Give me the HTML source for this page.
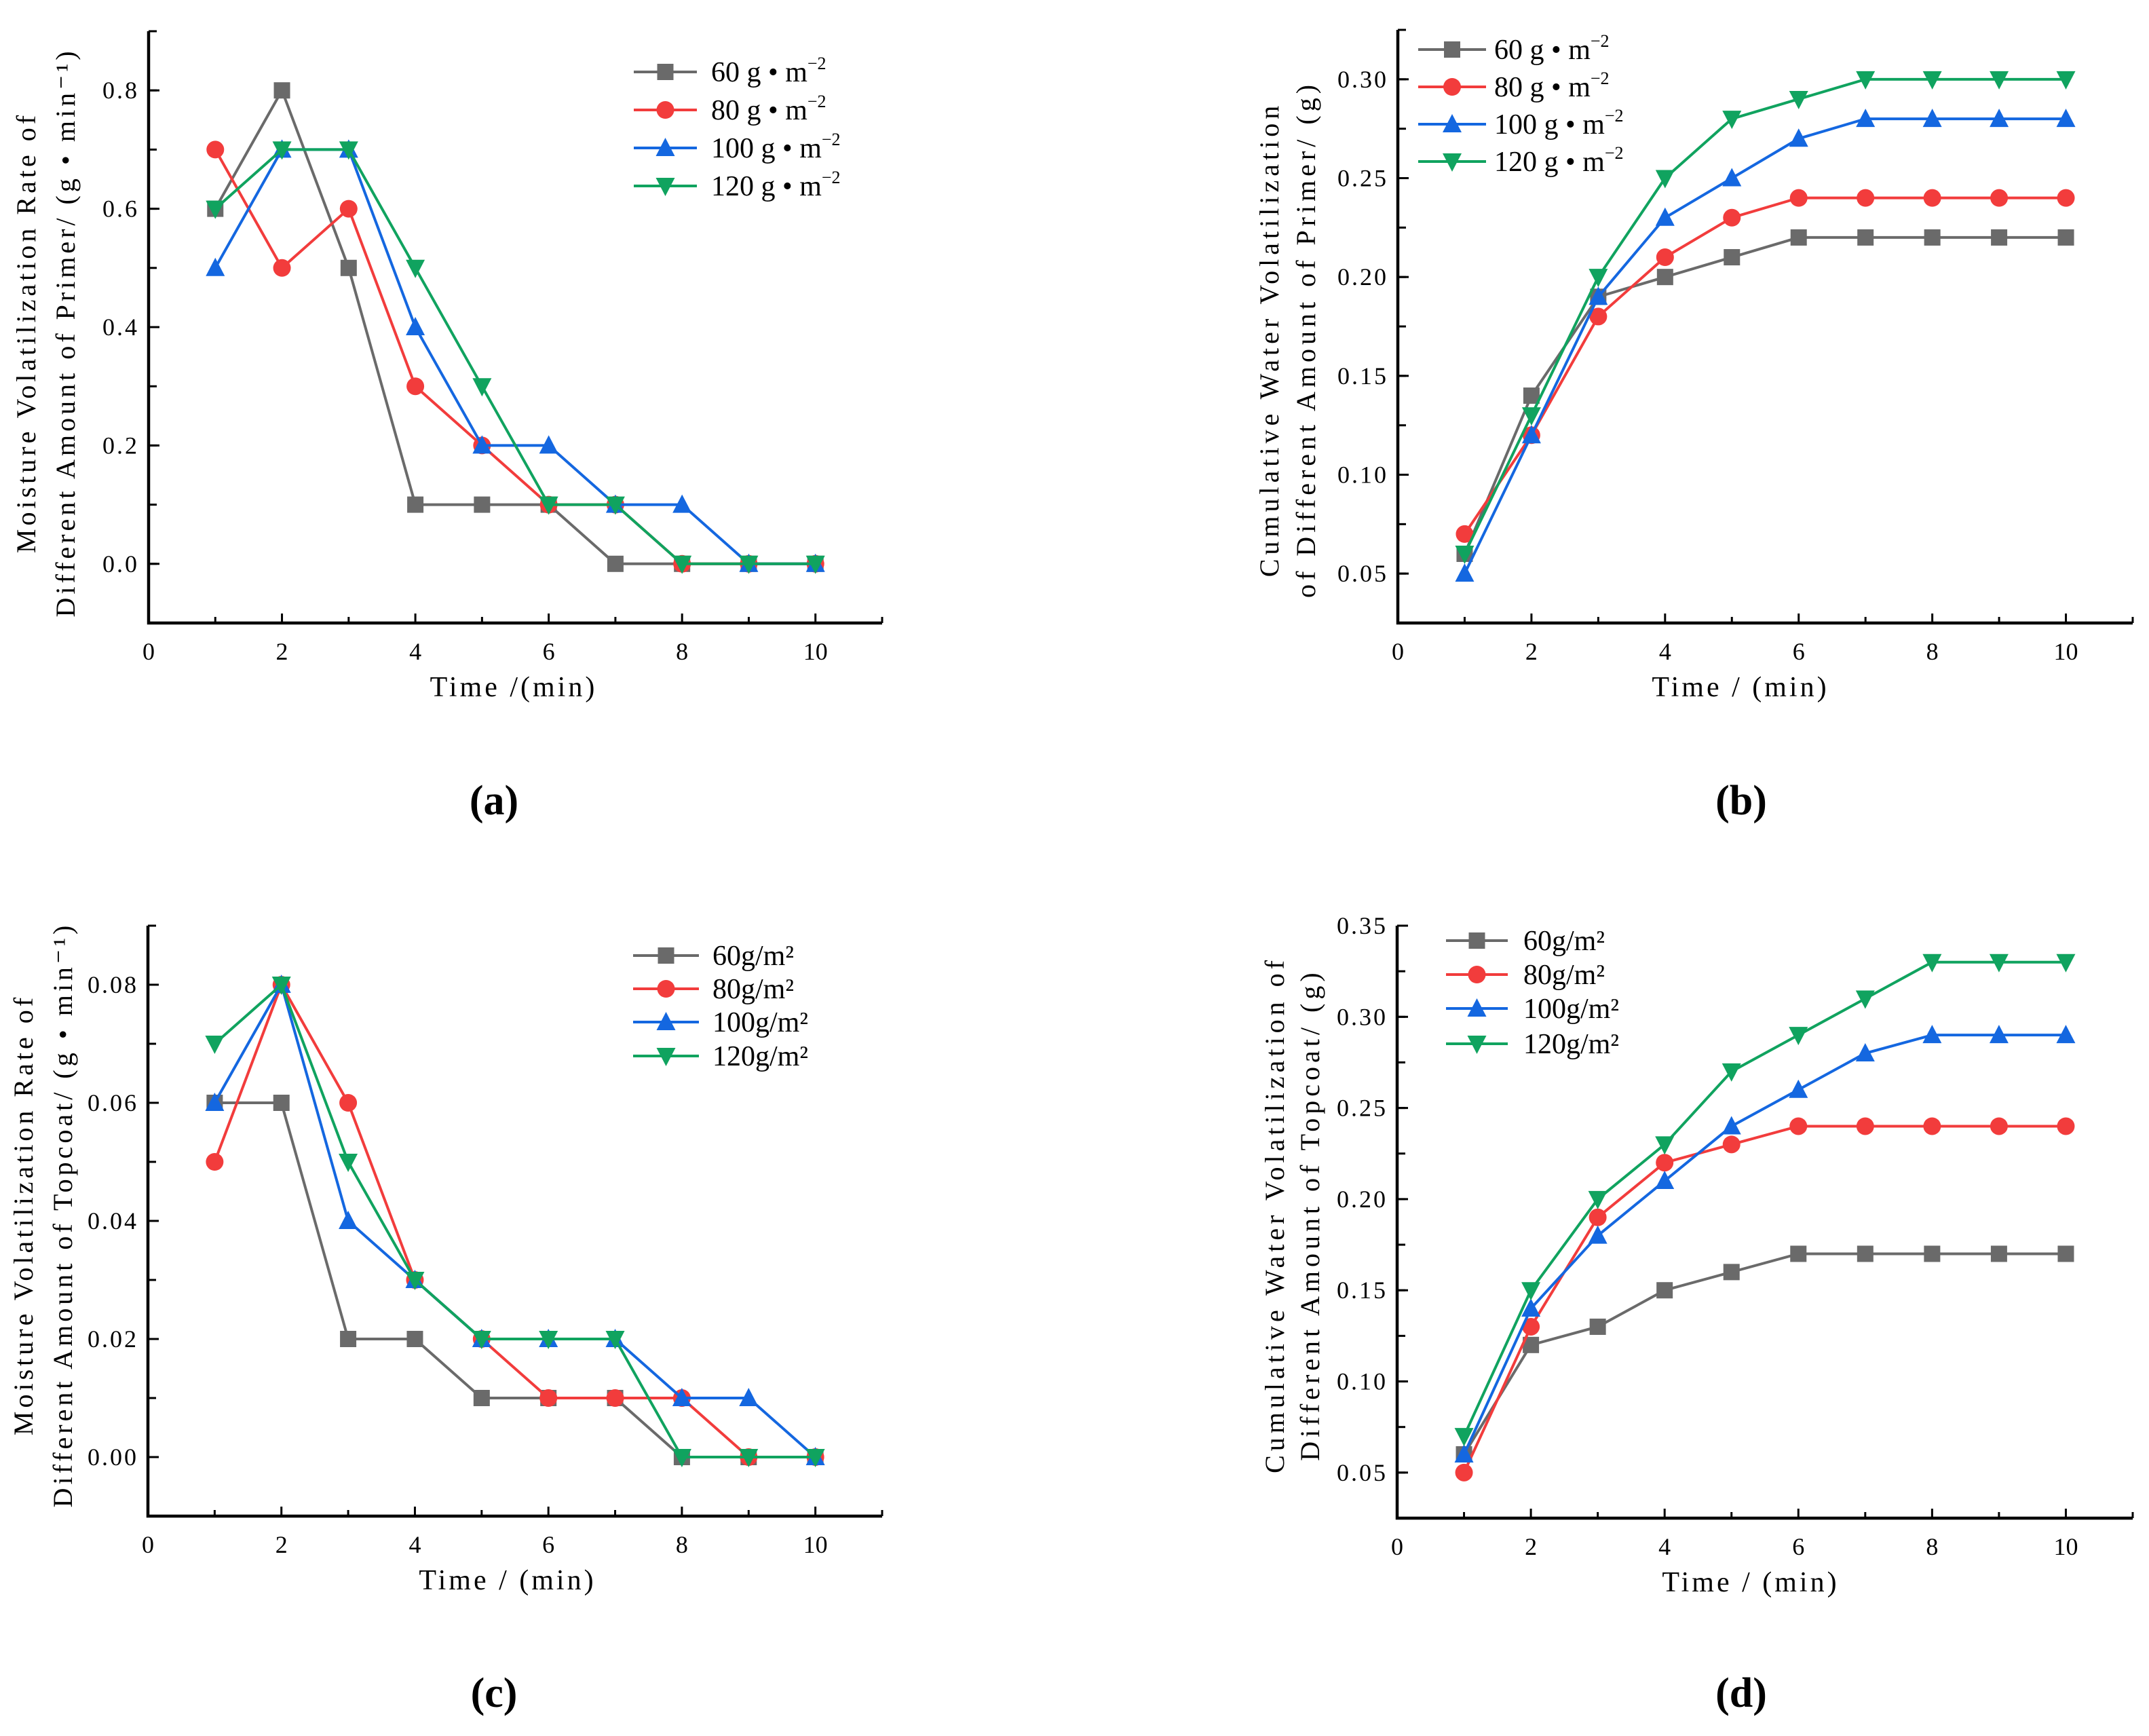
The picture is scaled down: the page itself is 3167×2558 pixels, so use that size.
<!DOCTYPE html>
<html><head><meta charset="utf-8">
<style>
html,body{margin:0;padding:0;background:#fff;}
svg{display:block;}
text{font-family:"Liberation Serif","Noto Serif CJK SC",serif;fill:#000;}
</style></head>
<body>
<svg id="fig" width="3167" height="2558" viewBox="0 0 3167 2558" xmlns="http://www.w3.org/2000/svg"></svg>
<script>
const xValues = [1,2,3,4,5,6,7,8,9,10];
const seriesNames = ["60","80","100","120"];
const aS60 = [0.6,0.8,0.5,0.1,0.1,0.1,0,0,0,0];
const aS80 = [0.7,0.5,0.6,0.3,0.2,0.1,0.1,0,0,0];
const aS100 = [0.5,0.7,0.7,0.4,0.2,0.2,0.1,0.1,0,0];
const aS120 = [0.6,0.7,0.7,0.5,0.3,0.1,0.1,0,0,0];
const bS60 = [0.06,0.14,0.19,0.20,0.21,0.22,0.22,0.22,0.22,0.22];
const bS80 = [0.07,0.12,0.18,0.21,0.23,0.24,0.24,0.24,0.24,0.24];
const bS100 = [0.05,0.12,0.19,0.23,0.25,0.27,0.28,0.28,0.28,0.28];
const bS120 = [0.06,0.13,0.20,0.25,0.28,0.29,0.30,0.30,0.30,0.30];
const cS60 = [0.06,0.06,0.02,0.02,0.01,0.01,0.01,0,0,0];
const cS80 = [0.05,0.08,0.06,0.03,0.02,0.01,0.01,0.01,0,0];
const cS100 = [0.06,0.08,0.04,0.03,0.02,0.02,0.02,0.01,0.01,0];
const cS120 = [0.07,0.08,0.05,0.03,0.02,0.02,0.02,0,0,0];
const dS60 = [0.06,0.12,0.13,0.15,0.16,0.17,0.17,0.17,0.17,0.17];
const dS80 = [0.05,0.13,0.19,0.22,0.23,0.24,0.24,0.24,0.24,0.24];
const dS100 = [0.06,0.14,0.18,0.21,0.24,0.26,0.28,0.29,0.29,0.29];
const dS120 = [0.07,0.15,0.20,0.23,0.27,0.29,0.31,0.33,0.33,0.33];
const xTickLabels = ["0","2","4","6","8","10"];
const aYTicks = ["0.0","0.2","0.4","0.6","0.8"];
const bYTicks = ["0.05","0.10","0.15","0.20","0.25","0.30"];
const cYTicks = ["0.00","0.02","0.04","0.06","0.08"];
const dYTicks = ["0.05","0.10","0.15","0.20","0.25","0.30","0.35"];

const NS="http://www.w3.org/2000/svg";
const svg=document.getElementById('fig');
const colors=["#6a6a6a","#f23c3c","#1467e0","#10a35f"];
const markers=["square","circle","tri-up","tri-down"];
function el(tag,attrs,parent){const e=document.createElementNS(NS,tag);for(const k in attrs)e.setAttribute(k,attrs[k]);(parent||svg).appendChild(e);return e;}

function marker(g,type,x,y,c){
  const s=12;let m;
  if(type==="square") m=el('rect',{x:x-s,y:y-s,width:2*s,height:2*s,fill:c},g);
  else if(type==="circle") m=el('circle',{cx:x,cy:y,r:s+1,fill:c},g);
  else if(type==="tri-up") m=el('polygon',{points:`${x},${y-s-3} ${x+s+2},${y+s} ${x-s-2},${y+s}`,fill:c},g);
  else m=el('polygon',{points:`${x},${y+s+3} ${x+s+2},${y-s} ${x-s-2},${y-s}`,fill:c},g);
  return m;
}

function panel(cfg){
  const g=el('g',{});
  
  
  const {L,R,T,B,ymin,ymax}=cfg;
  const sx=v=>L+(v-0)/(11-0)*(R-L);
  const sy=v=>B-(v-ymin)/(ymax-ymin)*(B-T);
  const ax=el('path',{d:`M${L},${T} L${L},${B} L${R},${B}`,stroke:'#000','stroke-width':4.5,fill:'none'},g);
  
  
  for(let i=1;i<=11;i++){
    const len=(i%2===0)?14:9;
    el('line',{x1:sx(i),x2:sx(i),y1:B,y2:B-len,stroke:'#000','stroke-width':3},g);
  }
  xTickLabels.forEach(t=>{
    const v=parseFloat(t);
    const tx=el('text',{x:sx(v),y:B+54,'text-anchor':'middle','font-size':36},g);
    tx.textContent=t;
    
    
  });
  const step=cfg.minor;
  for(let v=Math.ceil(ymin/step-1e-6)*step; v<=ymax+1e-9; v+=step){
    el('line',{x1:L,x2:L+12,y1:sy(v),y2:sy(v),stroke:'#000','stroke-width':3},g);
  }
  cfg.yTicks.forEach(t=>{
    const v=parseFloat(t);
    el('line',{x1:L,x2:L+16,y1:sy(v),y2:sy(v),stroke:'#000','stroke-width':3},g);
    const tx=el('text',{x:L-14,y:sy(v)+12,'text-anchor':'end','font-size':36,'letter-spacing':3},g);
    tx.textContent=t;
    
    
  });
  const xt=el('text',{x:cfg.xtX,y:B+108,'text-anchor':'middle','font-size':42,'letter-spacing':4},g);
  xt.textContent=cfg.xTitle;
  
  
  cfg.yTitle.forEach((line,i)=>{
    const cx=cfg.ytX[i], cy=cfg.ytY||(T+B)/2;
    const yt=el('text',{x:cx,y:cy,'text-anchor':'middle','font-size':40,'letter-spacing':cfg.ls||8,transform:`rotate(-90 ${cx} ${cy})`},g);
    yt.textContent=line;
    
    
  });
  cfg.series.forEach((arr,si)=>{
    const sg=el('g',{},g);
    
    
    const pts=arr.map((v,i)=>`${sx(xValues[i])},${sy(v)}`).join(' ');
    el('polyline',{points:pts,fill:'none',stroke:colors[si],'stroke-width':4},sg);
    arr.forEach((v,i)=>{
      const m=marker(sg,markers[si],sx(xValues[i]),sy(v),colors[si]);
      
      
    });
  });
  const lg=el('g',{},g);
  
  
  seriesNames.forEach((n,i)=>{
    const ly=cfg.legY[i];
    const eg=el('g',{},lg);
    
    
    el('line',{x1:cfg.legX1,x2:cfg.legX2,y1:ly,y2:ly,stroke:colors[i],'stroke-width':4},eg);
    marker(eg,markers[i],(cfg.legX1+cfg.legX2)/2,ly,colors[i]);
    const t=el('text',{x:cfg.legTX,y:ly+14,'font-size':42,'xml:space':'preserve'},eg);
    if(cfg.unitStyle==='neg'){
      t.textContent=n+'  g \u2022 m';
      const sup=el('tspan',{'font-size':26,dy:-18},t);sup.textContent='\u22122';
    } else {
      t.textContent=n+'g/m\u00B2';
    }
  });
  const pl=el('text',{x:cfg.labX,y:cfg.labY,'text-anchor':'middle','font-size':62,'font-weight':'bold'},g);
  pl.textContent=cfg.label;
  
  
}

panel({name:'panel-a',L:219,R:1300,T:46,B:918,ymin:-0.1,ymax:0.9,minor:0.1,yTicks:aYTicks,
  series:[aS60,aS80,aS100,aS120],xTitle:'Time /(min)',xtX:757,ls:5,
  yTitle:['Moisture Volatilization Rate of','Different Amount of Primer/ (g \u2022 min\u207B\u00B9)'],ytX:[52,110],ytY:490,
  legX1:934,legX2:1027,legTX:1048,legY:[106,162,218,274],unitStyle:'neg',label:'(a)',labX:728,labY:1200});
panel({name:'panel-b',L:2060,R:3143,T:44,B:918,ymin:0.025,ymax:0.325,minor:0.025,yTicks:bYTicks,
  series:[bS60,bS80,bS100,bS120],xTitle:'Time / (min)',xtX:2565,ls:6,
  yTitle:['Cumulative Water Volatilization','of Different Amount of Primer/ (g)'],ytX:[1884,1938],ytY:500,
  legX1:2090,legX2:2190,legTX:2202,legY:[73,128,183,238],unitStyle:'neg',label:'(b)',labX:2566,labY:1200});
panel({name:'panel-c',L:218,R:1300,T:1364,B:2234,ymin:-0.01,ymax:0.09,minor:0.01,yTicks:cYTicks,
  series:[cS60,cS80,cS100,cS120],xTitle:'Time / (min)',xtX:748,ls:5,
  yTitle:['Moisture Volatilization Rate of','Different Amount of Topcoat/ (g \u2022 min\u207B\u00B9)'],ytX:[48,106],ytY:1790,
  legX1:933,legX2:1030,legTX:1050,legY:[1408,1457,1506,1556],unitStyle:'sq',label:'(c)',labX:728,labY:2515});
panel({name:'panel-d',L:2059,R:3143,T:1364,B:2237,ymin:0.025,ymax:0.35,minor:0.025,yTicks:dYTicks,
  series:[dS60,dS80,dS100,dS120],xTitle:'Time / (min)',xtX:2580,ls:6,
  yTitle:['Cumulative Water Volatilization of','Different Amount of Topcoat/ (g)'],ytX:[1892,1944],ytY:1790,
  legX1:2131,legX2:2222,legTX:2245,legY:[1386,1436,1486,1538],unitStyle:'sq',label:'(d)',labX:2566,labY:2515});
</script>
</body></html>
